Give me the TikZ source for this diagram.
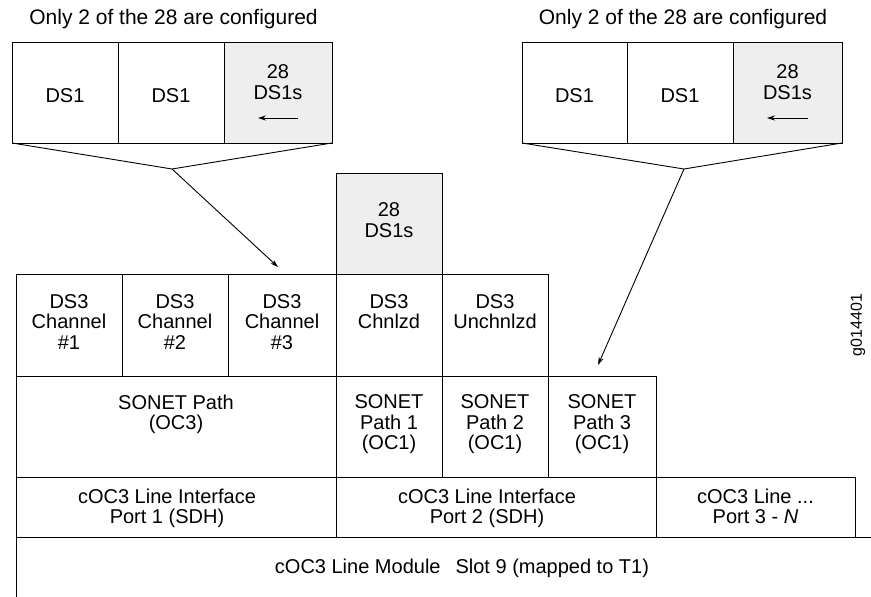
\documentclass[tikz,border=0pt]{standalone}
\usepackage{fontspec}
\setmainfont{Liberation Sans}
\usetikzlibrary{arrows.meta}
\definecolor{boxgrey}{HTML}{EEEEEE}
\tikzset{
  x=1pt, y=-1pt,
  cell/.style={draw=black, line width=0.9pt, inner sep=0pt, outer sep=0pt, rectangle},
  greycell/.style={cell, fill=boxgrey},
  txt/.style={inner sep=0pt, outer sep=0pt, align=center, font=\fontsize{20}{20.5}\selectfont},
  lbltxt/.style={inner sep=0pt, outer sep=0pt, font=\fontsize{21}{22}\selectfont},
  smalltxt/.style={inner sep=0pt, outer sep=0pt, font=\fontsize{16}{18}\selectfont},
  conn/.style={line width=0.9pt, draw=black},
  arr/.style={conn, -{Stealth[length=8pt,width=5pt]}},
}
\newcommand{\cellbox}[6]{% style, name, x1, y1, x2, y2
  \node[#1, minimum width={#5-#3}, minimum height={#6-#4}] (#2) at ({(#3+#5)/2},{(#4+#6)/2}) {};}
\begin{document}
\begin{tikzpicture}
\useasboundingbox (0,0) rectangle (871,597);

% labels
\node[lbltxt, anchor=base] (lblL) at (173.5,24) {Only 2 of the 28 are configured};
\node[lbltxt, anchor=base] (lblR) at (683,24) {Only 2 of the 28 are configured};

% top-left DS1 group
\cellbox{cell}{la}{12}{42}{118}{143}
\cellbox{cell}{lb}{118}{42}{224}{143}
\cellbox{greycell}{lc}{224}{42}{332}{143}
\node[txt] (lat) at (65,95.5) {DS1};
\node[txt] (lbt) at (171,95.5) {DS1};
\node[txt, anchor=north] (lct) at (278,65) {28\\DS1s};
\coordinate (lcs) at (298,118);
\coordinate (lce) at (258,118);
\draw[arr] (lcs) -- (lce);

% top-right DS1 group
\cellbox{cell}{ra}{522}{42}{627}{143}
\cellbox{cell}{rb}{627}{42}{733}{143}
\cellbox{greycell}{rc}{733}{42}{842}{143}
\node[txt] (rat) at (574.5,95.5) {DS1};
\node[txt] (rbt) at (680,95.5) {DS1};
\node[txt, anchor=north] (rct) at (787.5,65) {28\\DS1s};
\coordinate (rcs) at (808,118);
\coordinate (rce) at (767,118);
\draw[arr] (rcs) -- (rce);

% funnels and arrows
\coordinate (apexL) at (172,169);
\coordinate (apexR) at (684,169);
\coordinate (tipL) at (278,267);
\coordinate (tipR) at (598,365);
\draw[conn] (la.south west) -- (apexL) -- (lc.south east);
\draw[arr] (apexL) -- (tipL);
\draw[conn] (ra.south west) -- (apexR) -- (rc.south east);
\draw[arr] (apexR) -- (tipR);

% 28 DS1s above DS3 Chnlzd
\cellbox{greycell}{ds}{336}{173}{442}{274}
\node[txt, anchor=north] (dst) at (389,203) {28\\DS1s};

% DS3 row
\cellbox{cell}{c1}{16}{274}{122}{376}
\cellbox{cell}{c2}{122}{274}{228}{376}
\cellbox{cell}{c3}{228}{274}{336}{376}
\cellbox{cell}{c4}{336}{274}{442}{376}
\cellbox{cell}{c5}{442}{274}{548}{376}
\node[txt, anchor=north] (c1t) at (69,294.5) {DS3\\Channel\\\#1};
\node[txt, anchor=north] (c2t) at (175,294.5) {DS3\\Channel\\\#2};
\node[txt, anchor=north] (c3t) at (282,294.5) {DS3\\Channel\\\#3};
\node[txt, anchor=north] (c4t) at (389,294.5) {DS3\\Chnlzd};
\node[txt, anchor=north] (c5t) at (495,294.5) {DS3\\Unchnlzd};

% SONET row
\cellbox{cell}{s0}{16}{376}{336}{477}
\cellbox{cell}{s1}{336}{376}{442}{477}
\cellbox{cell}{s2}{442}{376}{548}{477}
\cellbox{cell}{s3}{548}{376}{656}{477}
\node[txt, anchor=north] (s0t) at (176,395) {SONET Path\\(OC3)};
\node[txt, anchor=north] (s1t) at (389,395) {SONET\\Path 1\\(OC1)};
\node[txt, anchor=north] (s2t) at (495,395) {SONET\\Path 2\\(OC1)};
\node[txt, anchor=north] (s3t) at (602,395) {SONET\\Path 3\\(OC1)};

% Line interface row
\cellbox{cell}{p1}{16}{477}{336}{537}
\cellbox{cell}{p2}{336}{477}{656}{537}
\cellbox{cell}{p3}{656}{477}{855}{537}
\node[txt, anchor=north] (p1t) at (167,489) {cOC3 Line Interface\\Port 1 (SDH)};
\node[txt, anchor=north] (p2t) at (487,489) {cOC3 Line Interface\\Port 2 (SDH)};
\node[txt, anchor=north] (p3t) at (755.5,489) {cOC3 Line ...\\Port 3 - \textit{N}};

% Line module (open at right and bottom)
\coordinate (mtr) at (871,537);
\coordinate (mbl) at (16,597);
\draw[conn] (mtr) -- (p1.south west) -- (mbl);
\node[txt, anchor=base] (mt) at (462,573) {cOC3 Line Module\hspace{0.75em}Slot 9 (mapped to T1)};

% figure id
\node[smalltxt, rotate=90] (gid) at (858,325) {g014401};
\end{tikzpicture}
\end{document}
